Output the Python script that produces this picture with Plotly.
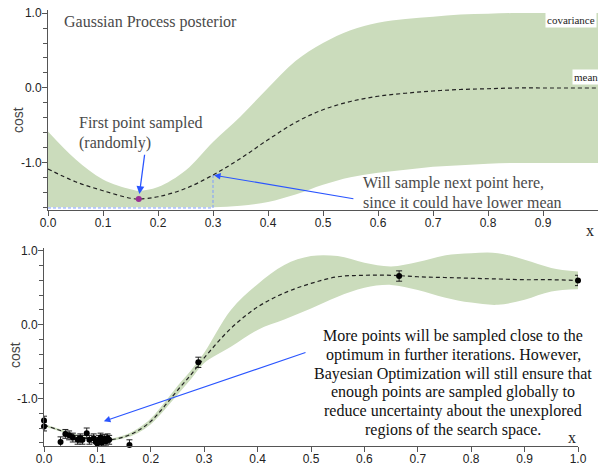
import plotly.graph_objects as go

# ---- Top panel: GP posterior after a single sample ----
top_x = [0.0, 0.05, 0.1, 0.15, 0.165, 0.2, 0.25, 0.3, 0.35, 0.4, 0.45, 0.5,
         0.55, 0.6, 0.65, 0.7, 0.75, 0.8, 0.85, 0.9, 0.95, 1.0]
top_mean = [-1.08, -1.25, -1.37, -1.47, -1.48, -1.45, -1.34, -1.16, -0.94, -0.69, -0.46, -0.29,
            -0.18, -0.11, -0.07, -0.04, -0.02, -0.01, 0.0, 0.0, 0.0, 0.0]
top_upper = [-0.58, -0.95, -1.22, -1.35, -1.37, -1.32, -1.10, -0.72, -0.38, 0.0, 0.36, 0.60,
             0.77, 0.87, 0.92, 0.95, 0.98, 0.99, 1.0, 1.0, 1.0, 1.0]
top_lower = [-1.59, -1.59, -1.59, -1.59, -1.59, -1.59, -1.59, -1.59, -1.57, -1.52, -1.42, -1.29,
             -1.19, -1.13, -1.09, -1.05, -1.03, -1.01, -1.0, -1.0, -1.0, -1.0]
sample_x = [0.165]
sample_y = [-1.48]
next_x = 0.3
next_mean = top_mean[top_x.index(next_x)]
guide_y = -1.6

# ---- Bottom panel: GP posterior after many samples ----
bot_x = [0.0, 0.025, 0.05, 0.075, 0.1, 0.125, 0.15, 0.175, 0.2, 0.225, 0.25, 0.275, 0.3,
         0.35, 0.4, 0.45, 0.5, 0.55, 0.6, 0.65, 0.7, 0.75, 0.8, 0.85, 0.9, 0.95, 1.0]
bot_mean = [-1.36, -1.42, -1.48, -1.53, -1.56, -1.56, -1.52, -1.44, -1.31, -1.11, -0.89, -0.68, -0.45,
            -0.05, 0.24, 0.43, 0.56, 0.65, 0.67, 0.67, 0.65, 0.64, 0.63, 0.62, 0.61, 0.61, 0.60]
bot_upper = [-1.345, -1.405, -1.465, -1.515, -1.545, -1.545, -1.50, -1.41, -1.27, -1.06, -0.83, -0.62, -0.38,
             0.20, 0.55, 0.81, 0.93, 0.93, 0.84, 0.79, 0.85, 0.94, 0.97, 0.97, 0.88, 0.77, 0.72]
bot_lower = [-1.375, -1.435, -1.495, -1.545, -1.575, -1.575, -1.54, -1.47, -1.35, -1.16, -0.95, -0.74, -0.52,
             -0.30, -0.07, 0.07, 0.22, 0.38, 0.50, 0.54, 0.47, 0.37, 0.30, 0.27, 0.34, 0.45, 0.48]

obs_x = [0.0, 0.0, 0.031, 0.040, 0.047, 0.054, 0.063, 0.068, 0.072, 0.080, 0.085, 0.093, 0.097,
         0.100, 0.103, 0.106, 0.108, 0.110, 0.113, 0.116, 0.119, 0.122, 0.160, 0.289, 0.665, 1.0]
obs_y = [-1.30, -1.38, -1.59, -1.48, -1.50, -1.53, -1.56, -1.54, -1.56, -1.47, -1.56, -1.54, -1.59,
         -1.61, -1.56, -1.53, -1.60, -1.57, -1.55, -1.58, -1.54, -1.56, -1.63, -0.51, 0.66, 0.60]
obs_err = [0.06, 0.06, 0.07, 0.06, 0.06, 0.06, 0.06, 0.06, 0.06, 0.07, 0.06, 0.06, 0.06,
           0.06, 0.06, 0.06, 0.06, 0.06, 0.06, 0.06, 0.06, 0.06, 0.07, 0.07, 0.07, 0.07]

y_tickvals = [-1.0, 0.0, 1.0]
y_ticktext = ["-1.0", "0.0", "1.0"]
top_xticks = [0.0, 0.1, 0.2, 0.3, 0.4, 0.5, 0.6, 0.7, 0.8, 0.9]
bot_xticks = [0.0, 0.1, 0.2, 0.3, 0.4, 0.5, 0.6, 0.7, 0.8, 0.9, 1.0]

top_note_lines = ["First point sampled", "(randomly)"]
next_note_lines = ["Will sample next point here,", "since it could have lower mean"]
bottom_note_lines = [
    "More points will be sampled close to the",
    "optimum in further iterations. However,",
    "Bayesian Optimization will still ensure that",
    "enough points are sampled globally to",
    "reduce uncertainty about the unexplored",
    "regions of the search space.",
]

W, H = 600, 466
BAND = "#cbdcbc"
BLUE = "#2a55ff"
SERIF = "Liberation Serif, Times New Roman, serif"
SANS = "Liberation Sans, Arial, sans-serif"
DASH = "4px,3px"


def px(xp, yp):
    """Pixel position (from the top-left corner) to paper coordinates."""
    return xp / W, 1 - yp / H


fig = go.Figure()

# band + mean, top
fig.add_trace(go.Scatter(x=top_x, y=top_upper, mode="lines", line=dict(width=0, shape="spline"),
                         hoverinfo="skip", showlegend=False, xaxis="x", yaxis="y"))
fig.add_trace(go.Scatter(x=top_x, y=top_lower, mode="lines", line=dict(width=0, shape="spline"),
                         fill="tonexty", fillcolor=BAND, hoverinfo="skip", showlegend=False,
                         xaxis="x", yaxis="y"))
# guide lines to the proposed next sample
fig.add_trace(go.Scatter(x=[0.0, next_x, next_x], y=[guide_y, guide_y, next_mean], mode="lines",
                         line=dict(color="#7f9dff", width=1, dash="3px,2px"),
                         showlegend=False, xaxis="x", yaxis="y"))
fig.add_trace(go.Scatter(x=top_x, y=top_mean, mode="lines",
                         line=dict(color="#222222", width=1.2, dash=DASH, shape="spline"),
                         showlegend=False, xaxis="x", yaxis="y"))
fig.add_trace(go.Scatter(x=sample_x, y=sample_y, mode="markers",
                         marker=dict(color="#9a2f92", size=6),
                         showlegend=False, xaxis="x", yaxis="y"))

# band + mean, bottom
fig.add_trace(go.Scatter(x=bot_x, y=bot_upper, mode="lines", line=dict(width=0, shape="spline"),
                         hoverinfo="skip", showlegend=False, xaxis="x2", yaxis="y2"))
fig.add_trace(go.Scatter(x=bot_x, y=bot_lower, mode="lines", line=dict(width=0, shape="spline"),
                         fill="tonexty", fillcolor=BAND, hoverinfo="skip", showlegend=False,
                         xaxis="x2", yaxis="y2"))
fig.add_trace(go.Scatter(x=bot_x, y=bot_mean, mode="lines",
                         line=dict(color="#222222", width=1.2, dash=DASH, shape="spline"),
                         showlegend=False, xaxis="x2", yaxis="y2"))
fig.add_trace(go.Scatter(x=obs_x, y=obs_y, mode="markers",
                         marker=dict(color="black", size=6),
                         error_y=dict(type="data", array=obs_err, color="#222222", thickness=1, width=3),
                         cliponaxis=False, showlegend=False, xaxis="x2", yaxis="y2"))

axis_common = dict(showgrid=False, zeroline=False, showline=True, linecolor="#555555", linewidth=1,
                   ticks="outside", ticklen=5, tickcolor="#555555", automargin=False,
                   tickfont=dict(family=SANS, size=12, color="#222222"), fixedrange=True)
minor_common = dict(dtick=0.2, tick0=0, ticks="outside", ticklen=4, tickcolor="#555555")

fig.update_layout(
    width=W, height=H, autosize=False,
    margin=dict(l=0, r=0, t=0, b=0, autoexpand=False),
    paper_bgcolor="white", plot_bgcolor="white",
    xaxis=dict(axis_common, domain=[48 / W, 598 / W], range=[0, 1.0], anchor="y",
               ticklabelstandoff=-3,
               tickvals=top_xticks, ticktext=["%.1f" % v for v in top_xticks]),
    yaxis=dict(axis_common, domain=[1 - 210 / H, 1 - 10 / H], range=[-1.627, 1.04], anchor="x",
               ticklabelstandoff=-2,
               tickvals=y_tickvals, ticktext=y_ticktext, minor=minor_common),
    xaxis2=dict(axis_common, domain=[44 / W, 578 / W], range=[0, 1.0], anchor="y2",
                ticklabelstandoff=-3,
                tickvals=bot_xticks, ticktext=["%.1f" % v for v in bot_xticks]),
    yaxis2=dict(axis_common, domain=[1 - 445.7 / H, 1 - 248 / H], range=[-1.64, 1.04], anchor="x2",
                ticklabelstandoff=-2,
                tickvals=y_tickvals, ticktext=y_ticktext, minor=minor_common),
)

anns = []
gray_text = dict(family=SERIF, size=16, color="#4a4a4a")


def text_at(text, xp, yp, font, xanchor="left", **kw):
    x, y = px(xp, yp)
    anns.append(dict(text=text, x=x, y=y, xref="paper", yref="paper", xanchor=xanchor,
                     yanchor="middle", showarrow=False, font=font, **kw))


text_at("Gaussian Process posterior", 62, 22, gray_text)
for i, line in enumerate(top_note_lines):
    text_at(line, 77, 123 + 20 * i, gray_text)
for i, line in enumerate(next_note_lines):
    text_at(line, 361, 183 + 19.5 * i, gray_text)
for i, line in enumerate(bottom_note_lines):
    text_at(line, 453, 335.7 + 18.9 * i, dict(family=SERIF, size=16, color="#111111"),
            xanchor="center")

small = dict(family=SERIF, size=11, color="#222222")
text_at("covariance", 571, 20, small, xanchor="center", bgcolor="white", borderpad=1)
text_at("mean", 586, 77, small, xanchor="center", bgcolor="white", borderpad=1)

# axis titles
x, y = px(18, 120)
anns.append(dict(text="cost", x=x, y=y, xref="paper", yref="paper", xanchor="center", yanchor="middle",
                 textangle=-90, showarrow=False, font=dict(family=SANS, size=14, color="#444444")))
x, y = px(15, 355)
anns.append(dict(text="cost", x=x, y=y, xref="paper", yref="paper", xanchor="center", yanchor="middle",
                 textangle=-90, showarrow=False, font=dict(family=SANS, size=14, color="#444444")))
text_at("x", 590, 230, dict(family=SERIF, size=16, color="#222222"), xanchor="center")
text_at("x", 572, 437, dict(family=SERIF, size=16, color="#222222"), xanchor="center")

# arrows
anns.append(dict(text="", x=sample_x[0], y=sample_y[0], xref="x", yref="y",
                 ax=0.176, ay=-0.87, axref="x", ayref="y", showarrow=True,
                 arrowhead=2, arrowsize=1.2, arrowwidth=1.3, arrowcolor=BLUE, standoff=5))
anns.append(dict(text="", x=next_x, y=next_mean, xref="x", yref="y",
                 ax=0.558, ay=-1.48, axref="x", ayref="y", showarrow=True,
                 arrowhead=2, arrowsize=1.2, arrowwidth=1.1, arrowcolor=BLUE, standoff=1))
anns.append(dict(text="", x=0.112, y=-1.31, xref="x2", yref="y2",
                 ax=0.4925, ay=-0.37, axref="x2", ayref="y2", showarrow=True,
                 arrowhead=2, arrowsize=1.2, arrowwidth=1.1, arrowcolor=BLUE, standoff=0))

fig.update_layout(annotations=anns)
fig.write_html("out.html")
